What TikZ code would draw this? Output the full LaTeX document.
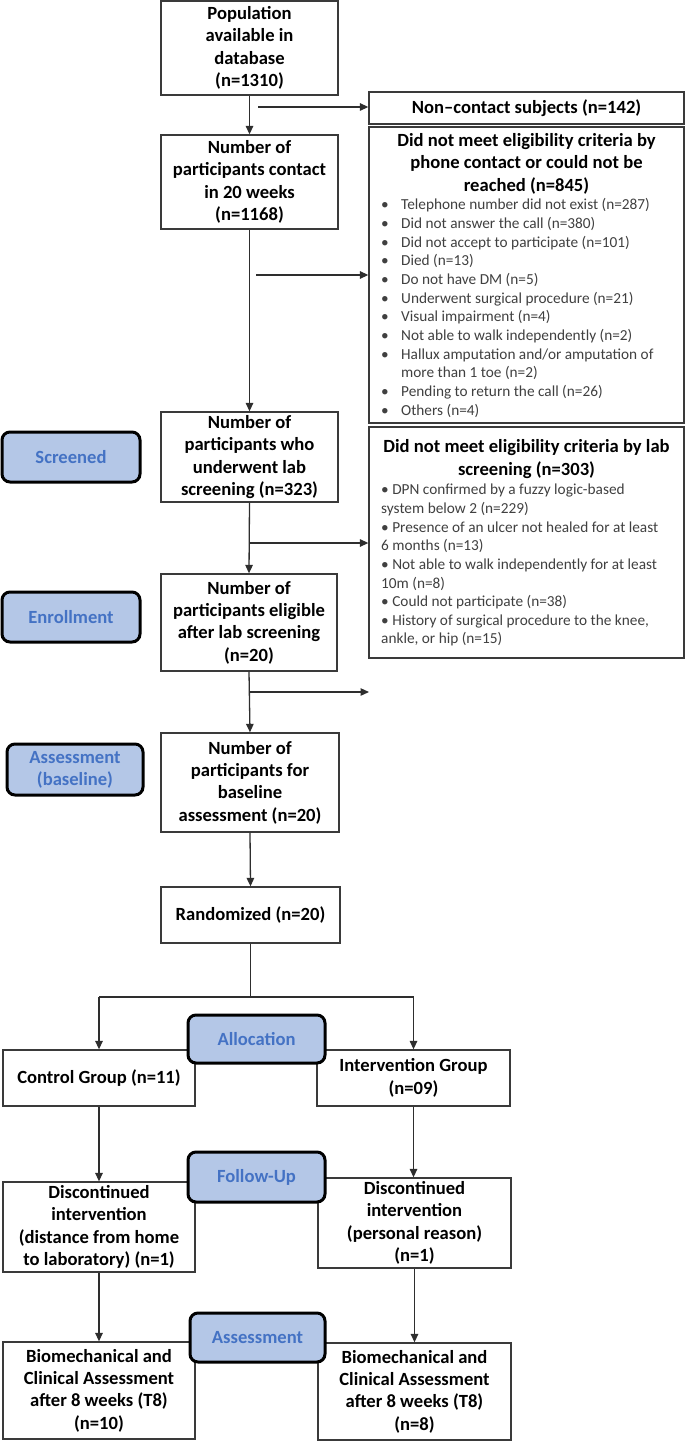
\documentclass[tikz,border=0pt]{standalone}
\usepackage{fontspec}
\setmainfont{Carlito}
\usetikzlibrary{arrows.meta}
\definecolor{linec}{HTML}{2E2E2E}
\definecolor{boxc}{HTML}{3A3A3A}
\definecolor{labfill}{HTML}{B4C7E7}
\definecolor{labtext}{HTML}{4472C4}
\definecolor{itemc}{HTML}{404040}
\newcommand\myboxfont{\fontsize{18.6}{22.3}\selectfont\bfseries}
\newcommand\myitemfont{\fontsize{15.3}{18.65}\selectfont}
\newcommand\mylabfont{\fontsize{18.6}{22}\selectfont\bfseries}
\tikzset{
  box/.style={draw=boxc, line width=1.3pt, fill=white, inner sep=0pt, align=center, font=\myboxfont, text=black},
  plain/.style={draw=boxc, line width=1.3pt, fill=white, inner sep=0pt},
  lab/.style={draw=black, line width=3pt, rounded corners=8pt, fill=labfill, text=labtext, font=\mylabfont, align=center, inner sep=0pt},
  arr/.style={draw=linec, line width=1.3pt, -{Triangle[length=8.5pt,width=7.5pt]}},
  ln/.style={draw=linec, line width=1.3pt},
  head/.style={inner sep=0pt, align=center, font=\myboxfont, text=black},
  items/.style={inner sep=0pt, align=left, font=\myitemfont, text=itemc, anchor=west}
}
\begin{document}
\begin{tikzpicture}[x=1pt,y=-1pt]
\useasboundingbox (0,0) rectangle (685,1442);
% main column boxes
\node[box, minimum width=177pt, minimum height=94pt] (pop) at (249.5,48) {Population\\available in\\database\\(n=1310)};
\node[box, minimum width=315pt, minimum height=32pt] (nc) at (526.5,108) {Non–contact subjects (n=142)};
\node[box, minimum width=177pt, minimum height=94pt] (contact) at (249.5,182) {Number of\\participants contact\\in 20 weeks\\(n=1168)};
\node[plain, minimum width=315pt, minimum height=296pt] (phone) at (526.5,275) {};
\node[head] (phonehead) at (526.5,163.7) {Did not meet eligibility criteria by\\phone contact or could not be\\reached (n=845)};
\node[items] (phonelist) at (381,308) {%
\makebox[20pt][l]{•}Telephone number did not exist (n=287)\\
\makebox[20pt][l]{•}Did not answer the call (n=380)\\
\makebox[20pt][l]{•}Did not accept to participate (n=101)\\
\makebox[20pt][l]{•}Died (n=13)\\
\makebox[20pt][l]{•}Do not have DM (n=5)\\
\makebox[20pt][l]{•}Underwent surgical procedure (n=21)\\
\makebox[20pt][l]{•}Visual impairment (n=4)\\
\makebox[20pt][l]{•}Not able to walk independently (n=2)\\
\makebox[20pt][l]{•}Hallux amputation and/or amputation of\\
\makebox[20pt][l]{}more than 1 toe (n=2)\\
\makebox[20pt][l]{•}Pending to return the call (n=26)\\
\makebox[20pt][l]{•}Others (n=4)};
\node[box, minimum width=177pt, minimum height=90pt] (screen) at (249.5,457) {Number of\\participants who\\underwent lab\\screening (n=323)};
\node[plain, minimum width=315pt, minimum height=231pt] (lab) at (526.5,542.5) {};
\node[head] (labhead) at (526.5,459) {Did not meet eligibility criteria by lab\\screening (n=303)};
\node[items] (lablist) at (381,565.3) {%
• DPN confirmed by a fuzzy logic-based\\
system below 2 (n=229)\\
• Presence of an ulcer not healed for at least\\
6 months (n=13)\\
• Not able to walk independently for at least\\
10m (n=8)\\
• Could not participate (n=38)\\
• History of surgical procedure to the knee,\\
ankle, or hip (n=15)};
\node[box, minimum width=176pt, minimum height=97pt] (elig) at (249,622.5) {Number of\\participants eligible\\after lab screening\\(n=20)};
\node[box, minimum width=178pt, minimum height=99pt] (base) at (250,782.5) {Number of\\participants for\\baseline\\assessment (n=20)};
\node[box, minimum width=179pt, minimum height=56pt] (rand) at (250.5,915) {Randomized (n=20)};
\node[box, minimum width=192pt, minimum height=56pt] (ctrl) at (99,1078) {Control Group (n=11)};
\node[box, minimum width=193pt, minimum height=56pt] (intv) at (413.5,1078) {Intervention Group\\(n=09)};
\node[box, minimum width=192pt, minimum height=90pt] (ldisc) at (99,1227) {Discontinued\\intervention\\(distance from home\\to laboratory) (n=1)};
\node[box, minimum width=193pt, minimum height=90pt] (rdisc) at (414.5,1223) {Discontinued\\intervention\\(personal reason)\\(n=1)};
\node[box, minimum width=192pt, minimum height=97pt] (lfin) at (99,1390.5) {Biomechanical and\\Clinical Assessment\\after 8 weeks (T8)\\(n=10)};
\node[box, minimum width=193pt, minimum height=97pt] (rfin) at (414.5,1391.5) {Biomechanical and\\Clinical Assessment\\after 8 weeks (T8)\\(n=8)};
% coordinates
\coordinate (s1) at (258,107);
\coordinate (s2) at (256,275);
\coordinate (s3) at (250,543);
\coordinate (s4) at (250,692);
\coordinate (e4) at (369,692);
\coordinate (br) at (250.5,997);
\coordinate (brl) at (99,997);
\coordinate (brr) at (413.5,997);
% connectors
\draw[arr] (pop.south) -- (contact.north);
\draw[arr] (s1) -- (nc.west |- s1);
\draw[arr] (s2) -- (phone.west |- s2);
\draw[arr] (contact.south) -- (screen.north);
\draw[arr] (s3) -- (lab.west |- s3);
\draw[arr] (screen.south) -- (elig.north);
\draw[arr] (s4) -- (e4);
\draw[arr] (elig.south) -- (base.north);
\draw[arr] (base.south) -- (rand.north);
\draw[ln] (rand.south) -- (br);
\draw[ln] (brl) -- (brr);
\draw[arr] (brl) -- (ctrl.north);
\draw[arr] (brr) -- (intv.north);
\draw[arr] (ctrl.south) -- (ldisc.north);
\draw[arr] (intv.south) -- (rdisc.north -| intv.south);
\draw[arr] (ldisc.south) -- (lfin.north);
\draw[arr] (rdisc.south) -- (rfin.north);
% stage labels
\node[lab, minimum width=138pt, minimum height=50pt] (screened) at (71,457) {Screened};
\node[lab, minimum width=138pt, minimum height=50pt] (enroll) at (71,617) {Enrollment};
\node[lab, minimum width=136pt, minimum height=51pt] (abase) at (75,769.5) {Assessment\\(baseline)};
\node[lab, minimum width=137pt, minimum height=48pt] (alloc) at (256.5,1039) {Allocation};
\node[lab, minimum width=137pt, minimum height=50pt] (follow) at (256.5,1177) {Follow-Up};
\node[lab, minimum width=135pt, minimum height=49pt] (assess) at (257.5,1337.5) {Assessment};
\end{tikzpicture}
\end{document}
